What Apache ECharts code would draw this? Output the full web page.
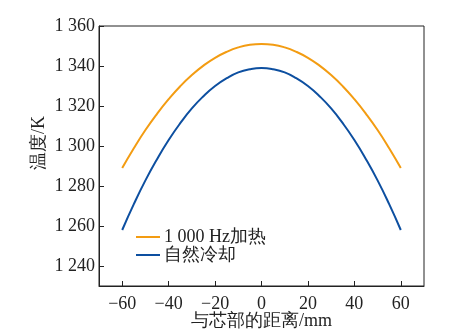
<!DOCTYPE html>
<html><head><meta charset="utf-8">
<script src="https://cdn.jsdelivr.net/npm/echarts@6/dist/echarts.min.js"></script>
<style>html,body{margin:0;padding:0;background:#fff}#c{width:463px;height:332px}</style>
</head><body><div id="c"></div>
<script>
const distances = [-60,-55,-50,-45,-40,-35,-30,-25,-20,-15,-10,-5,0,5,10,15,20,25,30,35,40,45,50,55,60];
const heated = [1289.0,1298.9,1308.0,1316.1,1323.4,1329.9,1335.5,1340.2,1344.1,1347.1,1349.3,1350.6,1351.0,1350.6,1349.3,1347.1,1344.1,1340.2,1335.5,1329.9,1323.4,1316.1,1308.0,1298.9,1289.0];
const cooled = [1258.0,1270.9,1282.8,1293.4,1303.0,1311.4,1318.8,1324.9,1330.0,1333.9,1336.8,1338.4,1339.0,1338.4,1336.8,1333.9,1330.0,1324.9,1318.8,1311.4,1303.0,1293.4,1282.8,1270.9,1258.0];
const xTicks = [-60,-40,-20,0,20,40,60];
const yTicks = [1240,1260,1280,1300,1320,1340,1360];
const seriesNames = ['1 000 Hz加热','自然冷却'];
const xName = '与芯部的距离/mm';
const yName = '温度/K';

const FONT = 'Liberation Serif';
const TXT = {fontFamily:FONT,fontSize:18,color:'#222'};
const pair = arr => distances.map((d,i)=>[d,arr[i]]);
const chart = echarts.init(document.getElementById('c'), null, {renderer:'canvas'});
chart.setOption({
  animation:false,
  textStyle:{fontFamily:FONT,fontSize:18},
  grid:{left:99,right:39,top:26,bottom:46,containLabel:false,outerBoundsMode:'none'},
  legend:{
    orient:'vertical', left:136, top:228, itemWidth:24, itemHeight:2, itemGap:0,
    icon:'rect', padding:0,
    textStyle:Object.assign({lineHeight:17,padding:[0,0,0,-1]},TXT),
    data:seriesNames
  },
  xAxis:{
    type:'value', min:-70, max:70,
    name:xName, nameLocation:'middle', nameGap:26, nameMoveOverlap:false,
    nameTextStyle:Object.assign({},TXT),
    axisLine:{show:true,onZero:false,lineStyle:{color:'#222',width:1}},
    axisTick:{show:true,inside:true,length:5,customValues:xTicks,lineStyle:{color:'#222'}},
    axisLabel:Object.assign({customValues:xTicks,margin:9,
      formatter:v=>String(v).replace('-','\u2212')},TXT),
    splitLine:{show:false}
  },
  yAxis:{
    type:'value', min:1230, max:1360,
    name:yName, nameLocation:'middle', nameGap:51, nameMoveOverlap:false,
    nameTextStyle:Object.assign({padding:[0,0,0,26]},TXT),
    axisLine:{show:true,onZero:false,lineStyle:{color:'#222',width:1}},
    axisTick:{show:true,inside:true,length:5,customValues:yTicks,lineStyle:{color:'#222'}},
    axisLabel:Object.assign({customValues:yTicks,margin:4,
      formatter:v=>String(v).replace(/\B(?=(\d{3})+(?!\d))/g,' ')},TXT),
    splitLine:{show:false}
  },
  graphic:[{type:'rect',shape:{x:99,y:26,width:325,height:260},style:{fill:'none',stroke:'#222',lineWidth:1},silent:true,z:10}],
  series:[
    {name:seriesNames[0],type:'line',data:pair(heated),smooth:true,symbol:'none',lineStyle:{color:'#f39c12',width:2},itemStyle:{color:'#f39c12'}},
    {name:seriesNames[1],type:'line',data:pair(cooled),smooth:true,symbol:'none',lineStyle:{color:'#0d4fa0',width:2},itemStyle:{color:'#0d4fa0'}}
  ]
});
</script></body></html>
